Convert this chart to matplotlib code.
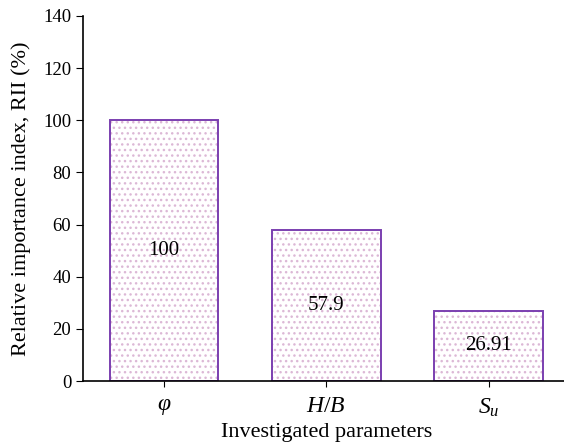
import numpy as np
import matplotlib.pyplot as plt

plt.rcParams['font.family'] = ['Liberation Serif', 'DejaVu Serif']
plt.rcParams['mathtext.fontset'] = 'custom'
plt.rcParams['mathtext.rm'] = 'Liberation Serif'
plt.rcParams['mathtext.it'] = 'Liberation Serif:italic'
plt.rcParams['hatch.linewidth'] = 1.0

params = [r'$\varphi$', r'$H/B$', r'$S_u$']
rii = [100, 57.9, 26.91]
rii_labels = ['100', '57.9', '26.91']

fig = plt.figure(figsize=(5.64, 4.45), dpi=100)
ax = fig.add_axes([83 / 564, 1 - 381 / 445, 1 - 83 / 564 + 0.01, 365 / 445])

x = np.arange(len(params))
# dotted fill, then the purple outline on top
ax.bar(x, rii, width=0.67, color='white', edgecolor='#dcb8d6', hatch='...', linewidth=0)
ax.bar(x, rii, width=0.67, color='none', edgecolor='#7b3fb0', linewidth=1.4)

for xi, v, lab in zip(x, rii, rii_labels):
    ax.text(xi, v / 2, lab, ha='center', va='center', fontsize=15)

ax.set_xlim(-0.5, 2.5)
ax.set_ylim(0, 140)
ax.set_yticks(range(0, 141, 20))
ax.set_xticks(x)
ax.set_xticklabels(params, fontsize=17)
ax.tick_params(axis='y', labelsize=13.5, direction='out', length=5)
ax.tick_params(axis='x', direction='out', length=4, pad=7)
ax.spines['right'].set_visible(False)
ax.spines['top'].set_visible(False)
for s in ['left', 'bottom']:
    ax.spines[s].set_linewidth(1.2)

ax.set_ylabel('Relative importance index, RII (%)', fontsize=16, labelpad=9)
ax.set_xlabel('Investigated parameters', fontsize=16, labelpad=3)

fig.savefig('out.png', dpi=100)
